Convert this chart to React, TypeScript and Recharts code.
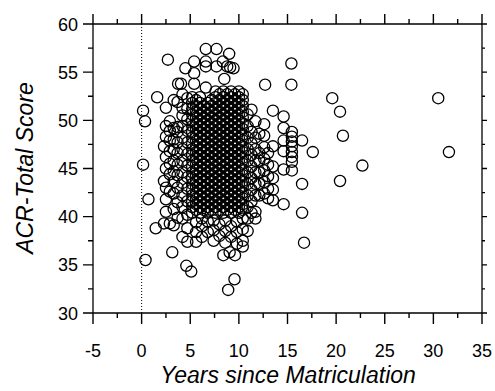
import React from "react";
import {
  ScatterChart,
  Scatter,
  XAxis,
  YAxis,
  ReferenceLine,
  Customized,
} from "recharts";

// sparse points: [years, score]
const sparsePoints: [number, number][] = [
  [0.15, 51.0], [0.35, 49.9], [0.15, 45.4], [0.7, 41.8], [0.4, 35.5],
  [1.6, 52.4], [1.45, 38.8], [2.7, 56.3], [3.15, 36.3], [4.6, 34.9],
  [5.1, 34.3], [6.6, 57.4], [7.7, 57.4], [9.0, 56.9], [8.9, 32.4],
  [9.55, 33.5], [8.4, 36.0], [9.05, 36.3], [9.6, 36.0], [15.4, 55.9],
  [15.4, 53.7], [12.7, 53.7], [13.5, 51.0], [14.6, 50.4], [14.6, 49.2],
  [14.6, 47.9], [14.6, 46.8], [14.6, 44.9], [14.6, 41.3], [16.5, 47.9],
  [16.5, 43.4], [16.5, 40.4], [16.7, 37.3], [17.6, 46.7], [19.6, 52.3],
  [20.4, 50.9], [20.7, 48.4], [20.4, 43.7], [22.7, 45.3], [30.5, 52.3],
  [31.6, 46.7],
  [15.45, 48.8], [15.45, 48.3], [15.45, 47.8], [15.45, 47.3], [15.45, 46.7],
  [15.45, 46.2], [15.45, 45.7], [15.45, 44.8],
  [5.4, 56.1], [4.5, 55.4], [5.4, 54.9], [6.6, 56.1], [6.6, 55.6],
  [7.7, 55.6], [8.35, 56.1], [8.8, 55.6], [9.45, 55.4], [8.5, 54.3],
  [5.4, 53.8], [6.6, 53.4], [3.75, 53.8], [4.05, 53.8], [9.1, 55.5],
];

// column groups: [years, scores[]]
const leftColumns: [number, number[]][] = [
  [2.3, [39.3, 43.7, 47.3]],
  [2.5, [40.5, 41.8, 43.0, 45.0, 46.2, 48.3, 49.4, 51.3]],
  [2.9, [39.3, 42.6, 44.4, 45.5, 46.8, 47.9, 48.9, 49.9]],
  [3.3, [39.1, 40.8, 42.4, 43.6, 44.7, 45.8, 47.0, 48.0, 49.2, 52.1]],
  [3.7, [39.9, 41.5, 43.0, 44.3, 45.4, 46.6, 47.7, 48.8, 49.3, 51.9]],
  [4.2, [37.9, 39.8, 41.0, 42.2, 43.5, 44.6, 45.8, 47.0, 48.2, 49.4, 50.5, 51.3, 52.7]],
  [4.7, [37.4, 38.8, 40.2, 41.6, 42.9, 44.1, 45.3, 46.5, 47.7, 48.9, 50.1, 51.2, 52.3]],
];

const coreColumns: [number, number[]][] = [
  [5.2, [40.4, 41.0, 41.6, 42.2, 42.8, 43.4, 44.0, 44.6, 45.2, 45.8, 46.4, 47.0, 47.6, 48.2, 48.8, 49.4, 50.0, 50.6, 51.2, 51.8, 52.4]],
  [5.6, [40.7, 41.3, 41.9, 42.5, 43.1, 43.7, 44.3, 44.9, 45.5, 46.1, 46.7, 47.3, 47.9, 48.5, 49.1, 49.7, 50.3, 50.9, 51.5, 52.1]],
  [6.0, [40.4, 41.0, 41.6, 42.2, 42.8, 43.4, 44.0, 44.6, 45.2, 45.8, 46.4, 47.0, 47.6, 48.2, 48.8, 49.4, 50.0, 50.6, 51.2, 51.8, 52.4]],
  [6.4, [40.7, 41.3, 41.9, 42.5, 43.1, 43.7, 44.3, 44.9, 45.5, 46.1, 46.7, 47.3, 47.9, 48.5, 49.1, 49.7, 50.3, 50.9, 51.5]],
  [6.8, [40.4, 41.0, 41.6, 42.2, 42.8, 43.4, 44.0, 44.6, 45.2, 45.8, 46.4, 47.0, 47.6, 48.2, 48.8, 49.4, 50.0, 50.6, 51.2, 51.8]],
  [7.2, [40.7, 41.3, 41.9, 42.5, 43.1, 43.7, 44.3, 44.9, 45.5, 46.1, 46.7, 47.3, 47.9, 48.5, 49.1, 49.7, 50.3, 50.9, 51.5, 52.1]],
  [7.6, [40.4, 41.0, 41.6, 42.2, 42.8, 43.4, 44.0, 44.6, 45.2, 45.8, 46.4, 47.0, 47.6, 48.2, 48.8, 49.4, 50.0, 50.6, 51.2, 51.8, 52.4, 53.0]],
  [8.0, [40.7, 41.3, 41.9, 42.5, 43.1, 43.7, 44.3, 44.9, 45.5, 46.1, 46.7, 47.3, 47.9, 48.5, 49.1, 49.7, 50.3, 50.9, 51.5, 52.1, 52.7]],
  [8.4, [40.4, 41.0, 41.6, 42.2, 42.8, 43.4, 44.0, 44.6, 45.2, 45.8, 46.4, 47.0, 47.6, 48.2, 48.8, 49.4, 50.0, 50.6, 51.2, 51.8, 52.4, 53.0]],
  [8.8, [40.7, 41.3, 41.9, 42.5, 43.1, 43.7, 44.3, 44.9, 45.5, 46.1, 46.7, 47.3, 47.9, 48.5, 49.1, 49.7, 50.3, 50.9, 51.5, 52.1, 52.7]],
  [9.2, [40.4, 41.0, 41.6, 42.2, 42.8, 43.4, 44.0, 44.6, 45.2, 45.8, 46.4, 47.0, 47.6, 48.2, 48.8, 49.4, 50.0, 50.6, 51.2, 51.8, 52.4, 53.0]],
  [9.6, [40.7, 41.3, 41.9, 42.5, 43.1, 43.7, 44.3, 44.9, 45.5, 46.1, 46.7, 47.3, 47.9, 48.5, 49.1, 49.7, 50.3, 50.9, 51.5, 52.1, 52.7]],
  [10.0, [40.4, 41.0, 41.6, 42.2, 42.8, 43.4, 44.0, 44.6, 45.2, 45.8, 46.4, 47.0, 47.6, 48.2, 48.8, 49.4, 50.0, 50.6, 51.2, 51.8, 52.4, 53.0]],
  [10.4, [40.7, 41.3, 41.9, 42.5, 43.1, 43.7, 44.3, 44.9, 45.5, 46.1, 46.7, 47.3, 47.9, 48.5, 49.1, 49.7, 50.3, 50.9, 51.5, 52.1, 52.7]],
];

const rightColumns: [number, number[]][] = [
  [10.9, [38.5, 39.8, 41.0, 42.2, 43.4, 44.6, 45.8, 47.0, 48.2, 49.4, 50.6]],
  [11.3, [40.4, 41.6, 42.8, 44.0, 45.2, 46.4, 47.6, 48.8, 51.1]],
  [11.7, [39.8, 40.5, 42.2, 43.4, 44.6, 45.8, 47.0, 48.2, 49.9]],
  [12.1, [42.2, 43.4, 44.6, 45.8, 46.6, 48.6]],
  [12.6, [42.4, 43.6, 44.8, 46.0, 47.2, 48.4, 49.6]],
  [13.0, [41.9, 42.9, 44.2, 45.4, 46.6]],
  [13.5, [41.7, 42.8, 44.0, 45.2, 47.3]],
];

const lowerColumns: [number, number[]][] = [
  [5.6, [37.4, 38.4, 39.4]],
  [6.2, [37.9, 39.0, 39.8]],
  [6.8, [38.4, 39.5]],
  [7.4, [37.5, 38.6, 39.6]],
  [8.0, [38.0, 39.2]],
  [8.6, [37.3, 38.5, 39.6]],
  [9.2, [37.9, 39.0]],
  [9.8, [37.2, 38.4, 39.5]],
  [10.4, [36.9, 37.5, 38.7, 39.8]],
];

const xTicks = [-5, -2.5, 0, 2.5, 5, 7.5, 10, 12.5, 15, 17.5, 20, 22.5, 25, 27.5, 30, 32.5, 35];
const yTicks = [30, 32.5, 35, 37.5, 40, 42.5, 45, 47.5, 50, 52.5, 55, 57.5, 60];

const data = [
  ...sparsePoints.map(([years, score]) => ({ years, score })),
  ...[...leftColumns, ...coreColumns, ...rightColumns, ...lowerColumns].flatMap(
    ([years, scores]) => scores.map((score) => ({ years, score }))
  ),
];

const FONT = '"Liberation Sans", Arial, Helvetica, sans-serif';
const INK = "#000";

// plot frame (chart margins below)
const LEFT = 93;
const RIGHT = 482;
const TOP = 24;
const BOTTOM = 313;
const px = (v: number) => LEFT + ((v + 5) / 40) * (RIGHT - LEFT);
const py = (v: number) => BOTTOM - ((v - 30) / 30) * (BOTTOM - TOP);
const isMajor = (v: number) => v % 5 === 0;

function makeLabel(side: "bottom" | "left") {
  return (props: any) => {
    const x = Number(props.x);
    const y = Number(props.y);
    const value = props.payload.value;
    if (!isMajor(value)) return <g />;
    if (side === "bottom")
      return (
        <text x={x} y={y + 44} textAnchor="middle" fontSize={18} fontFamily={FONT} fill={INK}>
          {value}
        </text>
      );
    return (
      <text x={x - 15} y={y + 6.5} textAnchor="end" fontSize={18} fontFamily={FONT} fill={INK}>
        {value}
      </text>
    );
  };
}

const Ring = (props: any) => {
  const { cx, cy } = props;
  if (cx == null || cy == null) return <g />;
  return <circle cx={cx} cy={cy} r={5.6} fill="none" stroke={INK} strokeWidth={1.3} />;
};

const Nothing = () => <g />;

// all frame tick marks as one path
const tickPath = [
  ...xTicks.map((v) => `M${px(v)},${BOTTOM}V${BOTTOM + (isMajor(v) ? 11 : 5)}`),
  ...xTicks.map((v) => `M${px(v)},${TOP}V${TOP - (isMajor(v) ? 10 : 5)}`),
  ...yTicks.map((v) => `M${LEFT},${py(v)}H${LEFT - (isMajor(v) ? 10 : 5)}`),
  ...yTicks.map((v) => `M${RIGHT},${py(v)}H${RIGHT + (isMajor(v) ? 5 : 3)}`),
].join("");

const Decor = () => (
  <g>
    <path d={tickPath} fill="none" stroke={INK} strokeWidth={1.4} />
    <g fontFamily={FONT} fill={INK} fontStyle="italic">
      <text x={288} y={383} textAnchor="middle" fontSize={23}>
        Years since Matriculation
      </text>
      <text x={33} y={168} textAnchor="middle" fontSize={23} transform="rotate(-90 33 168)">
        ACR-Total Score
      </text>
    </g>
  </g>
);

export default function App() {
  return (
    <div style={{ position: "absolute", left: 0, top: 0, width: 495, height: 391, background: "#fff" }}>
      <ScatterChart width={495} height={391} margin={{ top: 0, right: 0, bottom: 0, left: 0 }}>
        <XAxis
          xAxisId="bottom"
          dataKey="years"
          type="number"
          domain={[-5, 35]}
          ticks={xTicks}
          interval={0}
          orientation="bottom"
          height={391 - BOTTOM}
          tickSize={0}
          tickMargin={0}
          tickLine={false}
          axisLine={{ stroke: INK, strokeWidth: 1.3 }}
          tick={makeLabel("bottom")}
        />
        <XAxis
          xAxisId="top"
          dataKey="years"
          type="number"
          domain={[-5, 35]}
          orientation="top"
          height={TOP}
          tickLine={false}
          tick={false}
          axisLine={{ stroke: INK, strokeWidth: 1.3 }}
        />
        <YAxis
          yAxisId="left"
          dataKey="score"
          type="number"
          domain={[30, 60]}
          ticks={yTicks}
          interval={0}
          orientation="left"
          width={LEFT}
          tickSize={0}
          tickMargin={0}
          tickLine={false}
          axisLine={{ stroke: INK, strokeWidth: 1.3 }}
          tick={makeLabel("left")}
        />
        <YAxis
          yAxisId="right"
          dataKey="score"
          type="number"
          domain={[30, 60]}
          orientation="right"
          width={495 - RIGHT}
          tickLine={false}
          tick={false}
          axisLine={{ stroke: INK, strokeWidth: 1.3 }}
        />
        <ReferenceLine
          x={0}
          xAxisId="bottom"
          yAxisId="left"
          stroke={INK}
          strokeWidth={1}
          strokeDasharray="1 2"
        />
        <Scatter
          data={data}
          xAxisId="bottom"
          yAxisId="left"
          shape={Ring}
          isAnimationActive={false}
        />
        <Scatter
          data={data}
          xAxisId="top"
          yAxisId="right"
          shape={Nothing}
          isAnimationActive={false}
        />
        <Customized component={Decor} />
      </ScatterChart>
    </div>
  );
}
